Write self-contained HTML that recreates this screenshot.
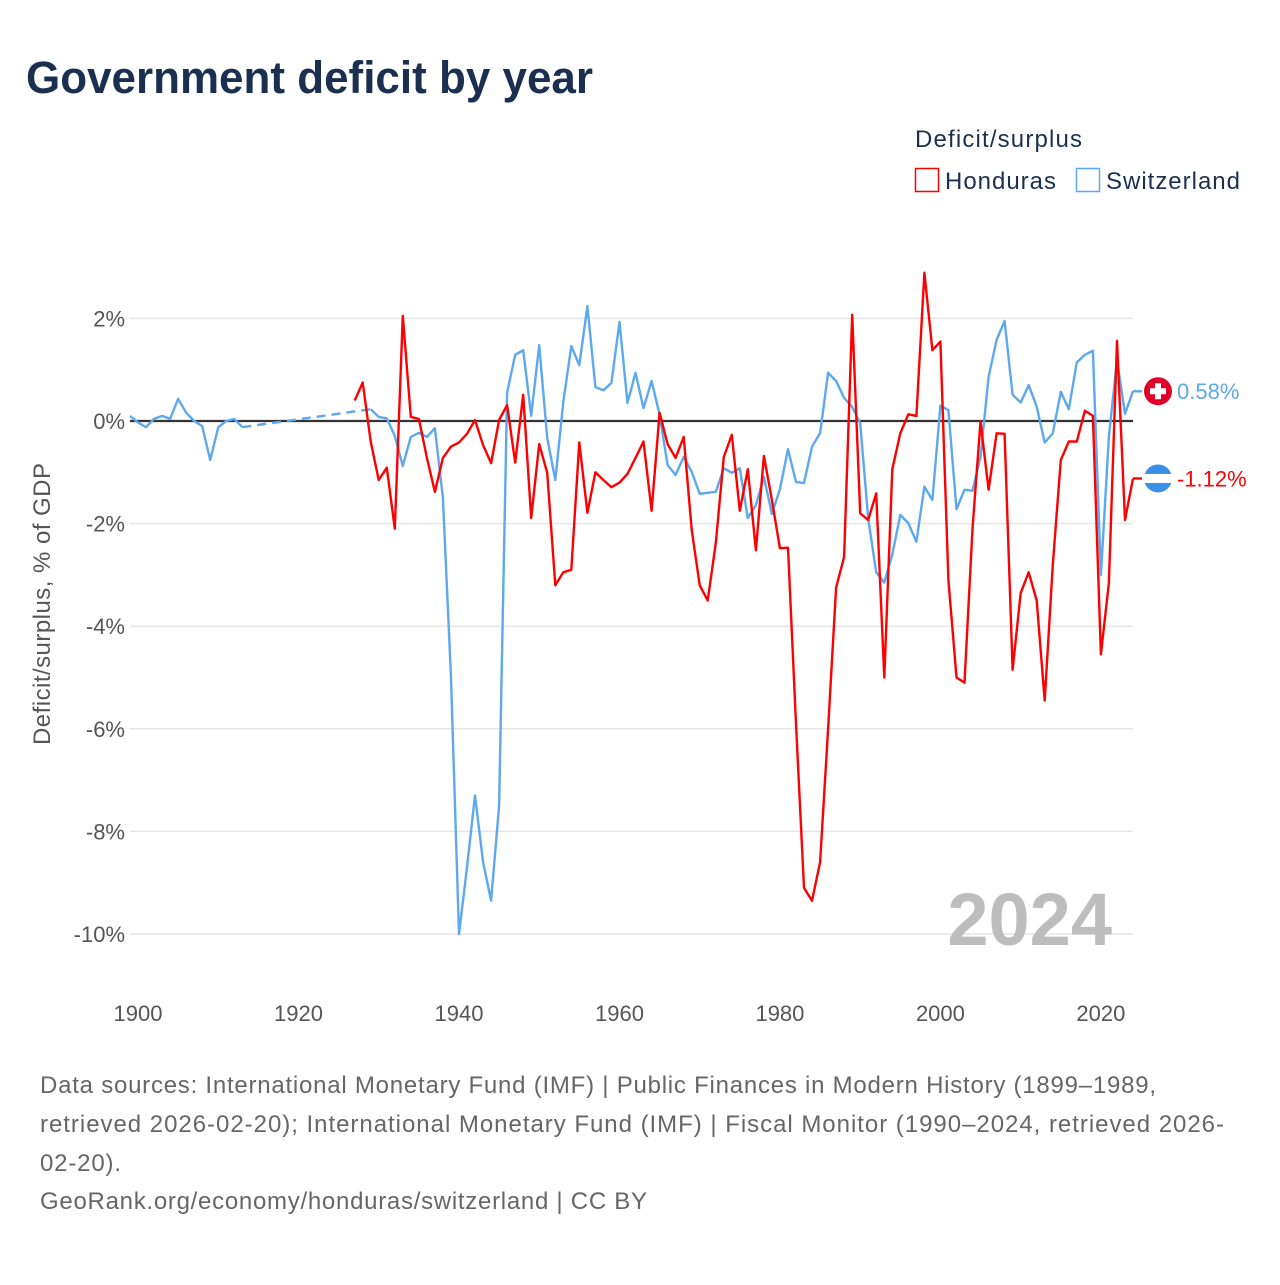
<!DOCTYPE html>
<html><head><meta charset="utf-8"><style>
body{margin:0;background:#fff;width:1280px;height:1280px;overflow:hidden;font-family:"Liberation Sans",sans-serif}
</style></head><body>
<svg id="chart" width="1280" height="1280" viewBox="0 0 1280 1280" xmlns="http://www.w3.org/2000/svg" font-family="Liberation Sans, sans-serif">
<text x="26" y="93" font-size="45" font-weight="bold" fill="#1b3050" textLength="567" lengthAdjust="spacingAndGlyphs">Government deficit by year</text>
<text x="915" y="147" font-size="24" fill="#1b3050" textLength="167">Deficit/surplus</text>
<g><rect x="915.5" y="168.5" width="23" height="23" fill="#fff" stroke="#ff0000" stroke-width="1.5"/><text x="945" y="189" font-size="24" fill="#1b3050" textLength="111">Honduras</text></g>
<g><rect x="1076.5" y="168.5" width="23" height="23" fill="#fff" stroke="#5da8ee" stroke-width="1.5"/><text x="1106" y="189" font-size="24" fill="#1b3050" textLength="134">Switzerland</text></g>
<g id="grid"></g>
<g id="yticks"></g>
<g id="xticks"></g>
<text transform="translate(50,604) rotate(-90)" text-anchor="middle" font-size="24" fill="#555" textLength="282">Deficit/surplus, % of GDP</text>
<text x="1112" y="945" text-anchor="end" font-size="74" font-weight="bold" fill="#bdbdbd">2024</text>
<g id="series"></g>
<g font-size="24" fill="#666">
<text x="40" y="1093" textLength="1116">Data sources: International Monetary Fund (IMF) | Public Finances in Modern History (1899–1989,</text>
<text x="40" y="1132" textLength="1184">retrieved 2026-02-20); International Monetary Fund (IMF) | Fiscal Monitor (1990–2024, retrieved 2026-</text>
<text x="40" y="1171" textLength="81">02-20).</text>
<text x="40" y="1209" textLength="607">GeoRank.org/economy/honduras/switzerland | CC BY</text>
</g>
</svg>
<script>
const yTicks=[2,0,-2,-4,-6,-8,-10];
const xTicks=[1900,1920,1940,1960,1980,2000,2020];
const swissEarlyYears=[1899,1900,1901,1902,1903,1904,1905,1906,1907,1908,1909,1910,1911,1912,1913];
const swissEarly=[0.10,-0.03,-0.12,0.04,0.10,0.04,0.43,0.16,0,-0.1,-0.76,-0.12,0,0.04,-0.12];
const swissStart=1929;
const swiss=[0.23,0.08,0.05,-0.29,-0.88,-0.31,-0.23,-0.31,-0.14,-1.5,-5.0,-10.0,-8.7,-7.3,-8.6,-9.35,-7.5,0.55,1.29,1.38,0.1,1.48,-0.33,-1.15,0.37,1.46,1.09,2.24,0.66,0.6,0.74,1.93,0.35,0.94,0.25,0.78,0.12,-0.86,-1.05,-0.7,-0.99,-1.42,-1.4,-1.38,-0.92,-1.01,-0.92,-1.89,-1.64,-1.09,-1.81,-1.33,-0.55,-1.19,-1.21,-0.5,-0.24,0.94,0.78,0.45,0.27,-0.04,-1.9,-2.95,-3.15,-2.6,-1.83,-1.99,-2.35,-1.28,-1.54,0.3,0.21,-1.72,-1.34,-1.36,-0.7,0.86,1.58,1.95,0.51,0.36,0.7,0.28,-0.42,-0.24,0.57,0.23,1.14,1.29,1.37,-3.0,-0.3,1.19,0.14,0.58];
const hondStart=1927;
const honduras=[0.4,0.75,-0.4,-1.15,-0.91,-2.1,2.05,0.08,0.04,-0.72,-1.38,-0.72,-0.5,-0.42,-0.25,0.02,-0.47,-0.82,0.02,0.31,-0.81,0.51,-1.89,-0.45,-1.01,-3.2,-2.95,-2.9,-0.42,-1.79,-1.0,-1.15,-1.29,-1.2,-1.03,-0.72,-0.4,-1.75,0.16,-0.45,-0.72,-0.31,-2.12,-3.2,-3.5,-2.38,-0.7,-0.27,-1.75,-0.94,-2.52,-0.68,-1.54,-2.48,-2.47,-5.9,-9.1,-9.35,-8.6,-6.0,-3.25,-2.65,2.07,-1.8,-1.93,-1.41,-5.0,-0.94,-0.24,0.13,0.1,2.89,1.38,1.55,-3.1,-5.0,-5.1,-2.1,-0.01,-1.34,-0.24,-0.25,-4.85,-3.35,-2.95,-3.5,-5.45,-2.8,-0.76,-0.4,-0.4,0.2,0.1,-4.55,-3.15,1.56,-1.93,-1.12];
const NS='http://www.w3.org/2000/svg';
const X=yr=>130+(yr-1899)*(1003/125);
const Y=v=>421-v*51.3;
function mk(tag,attrs,parent){const e=document.createElementNS(NS,tag);for(const k in attrs)e.setAttribute(k,attrs[k]);parent.appendChild(e);return e;}
const grid=document.getElementById('grid'),yt=document.getElementById('yticks'),xt=document.getElementById('xticks'),ser=document.getElementById('series');
yTicks.forEach(v=>{
 const l=mk('line',{x1:130,x2:1133,y1:Y(v),y2:Y(v),stroke:'#e6e6e6','stroke-width':1.5},grid);
 
 
 const t=mk('text',{x:125,y:Y(v)+8,'text-anchor':'end','font-size':22,fill:'#555'},yt);
 t.textContent=v+'%';
 
 
});
xTicks.forEach(v=>{
 const t=mk('text',{x:X(v),y:1021,'text-anchor':'middle','font-size':22,fill:'#555'},xt);
 t.textContent=v;
 
 
});
const zl=mk('line',{x1:130,x2:1133,y1:Y(0),y2:Y(0),stroke:'#333','stroke-width':2.2},grid);


function pts(start,arr){return arr.map((v,i)=>X(start+i).toFixed(1)+','+Y(v).toFixed(1)).join(' ');}
const se=mk('polyline',{points:swissEarly.map((v,i)=>X(swissEarlyYears[i]).toFixed(1)+','+Y(v).toFixed(1)).join(' '),fill:'none',stroke:'#5da8ee','stroke-width':2.4,'stroke-linejoin':'round'},ser);


const lastE=swissEarly.length-1;
const gap=mk('line',{x1:X(swissEarlyYears[lastE]),y1:Y(swissEarly[lastE]),x2:X(swissStart),y2:Y(swiss[0]),stroke:'#5da8ee','stroke-width':2.4,'stroke-dasharray':'9,6'},ser);


const sl=mk('polyline',{points:pts(swissStart,swiss),fill:'none',stroke:'#5da8ee','stroke-width':2.4,'stroke-linejoin':'round'},ser);


const hl=mk('polyline',{points:pts(hondStart,honduras),fill:'none',stroke:'#ff0000','stroke-width':2.4,'stroke-linejoin':'round'},ser);


const sLast=swiss[swiss.length-1],hLast=honduras[honduras.length-1];
const xe=X(2024);
mk('line',{x1:xe,x2:1142,y1:Y(sLast),y2:Y(sLast),stroke:'#5da8ee','stroke-width':2.4},ser);
mk('line',{x1:xe,x2:1142,y1:Y(hLast),y2:Y(hLast),stroke:'#ff0000','stroke-width':2.4},ser);
const fs=mk('g',{},ser);


mk('circle',{cx:1158,cy:Y(sLast),r:14,fill:'#e0002a'},fs);
mk('rect',{x:1155,y:Y(sLast)-8,width:6,height:16,fill:'#fff'},fs);
mk('rect',{x:1150,y:Y(sLast)-3,width:16,height:6,fill:'#fff'},fs);
const fh=mk('g',{},ser);


const hy=Y(hLast);
mk('circle',{cx:1158,cy:hy,r:14,fill:'#3a8fe8'},fh);
mk('rect',{x:1144,y:hy-4.5,width:28,height:9,fill:'#fff'},fh);
const st=mk('text',{x:1177,y:Y(sLast)+8,'font-size':22,fill:'#5da8ee'},ser);
st.textContent=sLast.toFixed(2)+'%';


const ht=mk('text',{x:1177,y:hy+8,'font-size':22,fill:'#ff0000'},ser);
ht.textContent=hLast.toFixed(2)+'%';


</script>
</body></html>
